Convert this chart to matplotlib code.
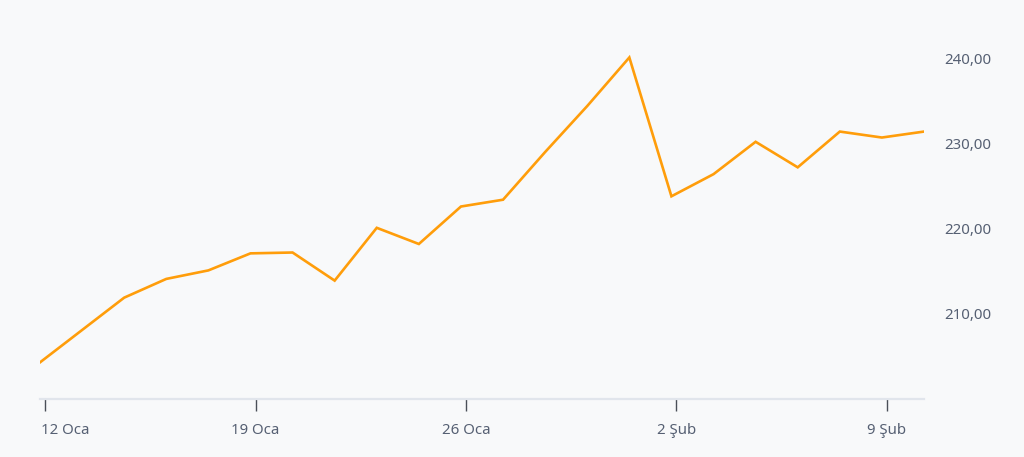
import matplotlib
matplotlib.use("Agg")
import matplotlib.pyplot as plt
import matplotlib.transforms as mtransforms
from matplotlib.ticker import FuncFormatter

# ── data: one close price per trading day, 12 Oca → 10 Şub ────────────────────
day_index = list(range(22))
prices = [
    204.3, 208.1, 211.9, 214.1, 215.1, 217.1, 217.2, 213.9, 220.1, 218.2,
    222.6, 223.4, 229.0, 234.4, 240.1, 223.8, 226.4, 230.2, 227.2, 231.4,
    230.7, 231.4,
]
tick_days = [0, 5, 10, 15, 20]
tick_labels = ["12 Oca", "19 Oca", "26 Oca", "2 Şub", "9 Şub"]
y_ticks = [210, 220, 230, 240]

# ── styling ───────────────────────────────────────────────────────────────────
_BG = "#f8f9fa"
_LINE = "#ff9d0a"
_TEXT = "#566073"
_AXIS = "#e1e5ec"

plt.rcParams["font.family"] = ["Noto Sans", "DejaVu Sans"]

W, H = 1024, 457
fig = plt.figure(figsize=(W / 100, H / 100), dpi=100)
fig.patch.set_facecolor(_BG)
ax = fig.add_axes([40 / W, (H - 399) / H, (924 - 40) / W, (399 - 20) / H])
ax.set_facecolor(_BG)

ax.plot(day_index, prices, color=_LINE, linewidth=1.9,
        solid_joinstyle="miter", zorder=3)

ax.set_xlim(0, 21)
ax.set_ylim(200.0, 244.5)

# x ticks sit a little to the right of the data point (midnight vs. close)
ax.set_xticks([d + 0.12 for d in tick_days])
ax.set_xticklabels(tick_labels)
ax.tick_params(axis="x", length=8.6, width=1.0, color="#4a4f58",
               pad=8.5, labelsize=10.8, labelcolor=_TEXT)
first = ax.get_xticklabels()[0]
first.set_horizontalalignment("left")
first.set_transform(first.get_transform() +
                    mtransforms.ScaledTranslation(-4 / 100, 0, fig.dpi_scale_trans))

ax.yaxis.tick_right()
ax.set_yticks(y_ticks)
ax.yaxis.set_major_formatter(FuncFormatter(lambda v, _: f"{v:.2f}".replace(".", ",")))
ax.tick_params(axis="y", length=0, pad=14.5, labelsize=10.8, labelcolor=_TEXT)

for side in ("top", "left", "right"):
    ax.spines[side].set_visible(False)
ax.spines["bottom"].set_color(_AXIS)
ax.spines["bottom"].set_linewidth(1.6)

fig.savefig("out.png", dpi=100, facecolor=_BG)
